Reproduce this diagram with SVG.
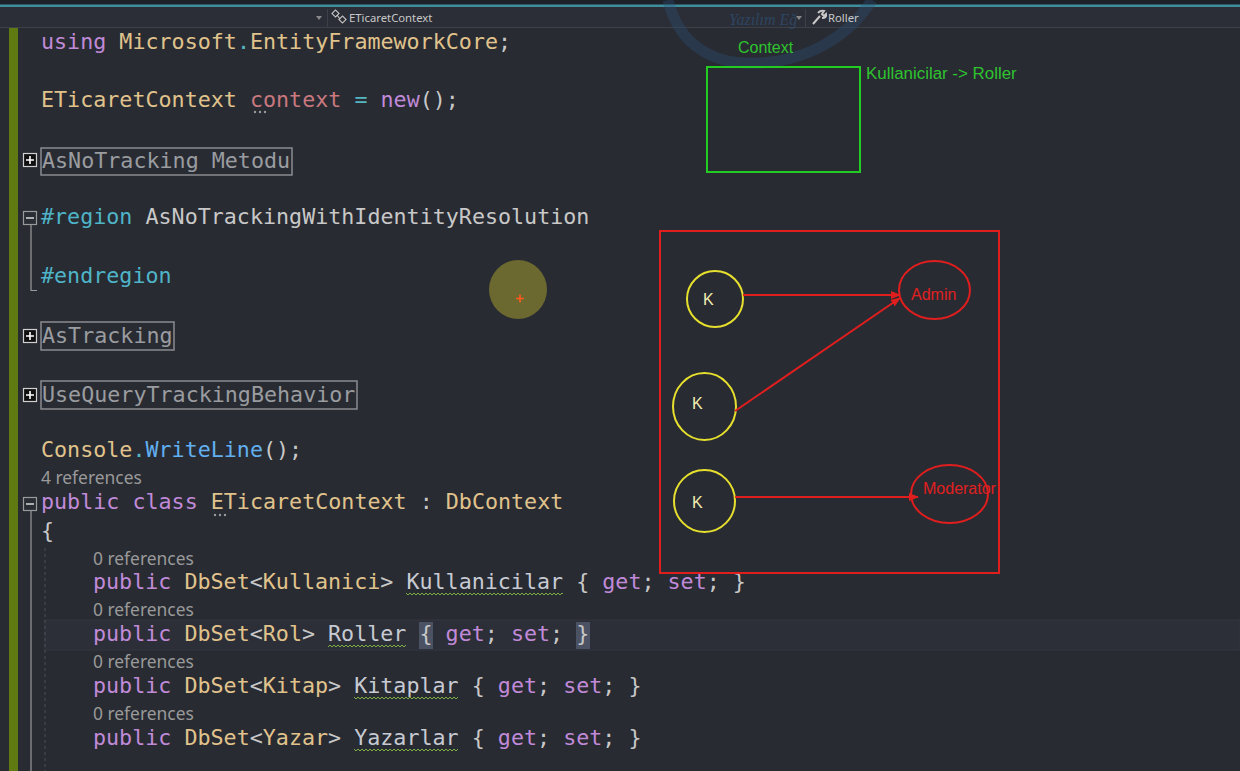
<svg xmlns="http://www.w3.org/2000/svg" width="1240" height="771" viewBox="0 0 1240 771">
<defs>
<style>
.code{font-family:"DejaVu Sans Mono","Liberation Mono",monospace;font-size:21.7px}
.kw{fill:#c08ad8}.ty{fill:#e0c38c}.pl{fill:#c8c8c8}.pr{fill:#c7cad2}.lv{fill:#c9787f}.op{fill:#56b6c2}.mt{fill:#61afef}.pp{fill:#4fb4c8}.col{fill:#9a9ca0}
.lens{font-family:"Noto Sans","Open Sans",sans-serif;font-size:17.4px;fill:#9a9a9a}
.tb{font-family:"Noto Sans","Open Sans",sans-serif;font-size:11.3px;fill:#c8c8c8}
.cbox{fill:none;stroke:#8a8c90;stroke-width:1.5}
.plusbox{fill:#111;stroke:#d0d0d0;stroke-width:1.2}
.minusbox{fill:#2a2d34;stroke:#9a9a9a;stroke-width:1.2}
.dia{font-family:"Liberation Sans",Arial,sans-serif;font-size:16px}
.yc{fill:none;stroke:#e6df2e;stroke-width:2}
.rc{fill:none;stroke:#e01e1e;stroke-width:2}
.kt{fill:#f2eeb0}
.rt{fill:#e02020}
.gt{fill:#2fc32f}
.conn{stroke:#e01e1e;stroke-width:2;fill:none}
</style>
<pattern id="sq" width="4" height="4" patternUnits="userSpaceOnUse">
<path d="M0 3 L2 1 L4 3" fill="none" stroke="#7fae45" stroke-width="1"/>
</pattern>
<marker id="ah" markerWidth="10" markerHeight="8" refX="9" refY="4" orient="auto" markerUnits="userSpaceOnUse">
<path d="M0 0 L10 4 L0 8 Z" fill="#e01e1e"/>
</marker>
</defs>

<!-- background -->
<rect x="0" y="0" width="1240" height="771" fill="#282b32"/>
<rect x="0" y="0" width="1240" height="6" fill="#1e2228"/>
<rect x="0" y="4.5" width="1240" height="2.5" fill="#3f8e9e"/>
<rect x="0" y="7" width="1240" height="20" fill="#2b2e36"/>
<line x1="0" y1="27.5" x2="1240" y2="27.5" stroke="#3c4048" stroke-width="1"/>

<!-- watermark -->
<path d="M 668 0 C 680 50 720 66 760 63 C 810 60 850 35 872 0" fill="none" stroke="#2a4f78" stroke-width="11" opacity="0.35"/>
<text x="729" y="25" font-family="Liberation Serif,serif" font-style="italic" font-size="16" fill="#2f5580" opacity="0.6">Yazılım Eğ</text>

<!-- toolbar -->
<path d="M316 16 L322 16 L319 20 Z" fill="#8a8a8a"/>
<line x1="327.5" y1="9" x2="327.5" y2="27" stroke="#3c4048"/>
<g fill="none" stroke="#c8c8c8" stroke-width="1.1">
<rect x="333" y="11" width="5" height="5" transform="rotate(45 335.5 13.5)"/>
<rect x="340" y="17" width="5" height="5" transform="rotate(45 342.5 19.5)"/>
<path d="M337 15 L340 19"/>
</g>
<text class="tb" x="349" y="22">ETicaretContext</text>
<path d="M796 16 L802 16 L799 20 Z" fill="#8a8a8a"/>
<line x1="805.5" y1="9" x2="805.5" y2="27" stroke="#3c4048"/>
<path d="M813 24 L820 16 M818 13 Q820 10 824 11 L822 14 L824 16 L826 14 Q827 18 822 18" fill="none" stroke="#c8c8c8" stroke-width="2"/>
<text class="tb" x="828" y="22">Roller</text>

<!-- gutter -->
<rect x="9" y="28" width="9" height="743" fill="#5f7a10"/>

<!-- current line highlight -->
<rect x="45" y="620" width="1195" height="30" fill="#2c2f37" stroke="#33363e" stroke-width="1"/>
<rect x="419" y="622" width="14" height="27" fill="#4b5263"/>
<rect x="576" y="622" width="14" height="27" fill="#4b5263"/>

<!-- code -->
<g class="code" xml:space="preserve">
<text x="41" y="49"><tspan class="kw">using</tspan><tspan class="pl"> </tspan><tspan class="ty">Microsoft</tspan><tspan class="op">.</tspan><tspan class="ty">EntityFrameworkCore</tspan><tspan class="pl">;</tspan></text>
<text x="41" y="107"><tspan class="ty">ETicaretContext</tspan><tspan class="pl"> </tspan><tspan class="lv">context</tspan><tspan class="pl"> </tspan><tspan class="op">=</tspan><tspan class="pl"> </tspan><tspan class="kw">new</tspan><tspan class="pl">();</tspan></text>
<text x="42" y="168" class="col">AsNoTracking Metodu</text>
<text x="41" y="224"><tspan class="pp">#region</tspan><tspan class="pl"> AsNoTrackingWithIdentityResolution</tspan></text>
<text x="41" y="283" class="pp">#endregion</text>
<text x="42" y="343" class="col">AsTracking</text>
<text x="42" y="402" class="col">UseQueryTrackingBehavior</text>
<text x="41" y="457"><tspan class="ty">Console</tspan><tspan class="op">.</tspan><tspan class="mt">WriteLine</tspan><tspan class="pl">();</tspan></text>
<text x="41" y="509"><tspan class="kw">public class</tspan><tspan class="pl"> </tspan><tspan class="ty">ETicaretContext</tspan><tspan class="pl"> : </tspan><tspan class="ty">DbContext</tspan></text>
<text x="41" y="538" class="pl">{</text>
<text x="93" y="589"><tspan class="kw">public</tspan><tspan class="pl"> </tspan><tspan class="ty">DbSet</tspan><tspan class="pl">&lt;</tspan><tspan class="ty">Kullanici</tspan><tspan class="pl">&gt; </tspan><tspan class="pr">Kullanicilar</tspan><tspan class="pl"> { </tspan><tspan class="kw">get</tspan><tspan class="pl">; </tspan><tspan class="kw">set</tspan><tspan class="pl">; }</tspan></text>
<text x="93" y="641"><tspan class="kw">public</tspan><tspan class="pl"> </tspan><tspan class="ty">DbSet</tspan><tspan class="pl">&lt;</tspan><tspan class="ty">Rol</tspan><tspan class="pl">&gt; </tspan><tspan class="pr">Roller</tspan><tspan class="pl"> { </tspan><tspan class="kw">get</tspan><tspan class="pl">; </tspan><tspan class="kw">set</tspan><tspan class="pl">; }</tspan></text>
<text x="93" y="693"><tspan class="kw">public</tspan><tspan class="pl"> </tspan><tspan class="ty">DbSet</tspan><tspan class="pl">&lt;</tspan><tspan class="ty">Kitap</tspan><tspan class="pl">&gt; </tspan><tspan class="pr">Kitaplar</tspan><tspan class="pl"> { </tspan><tspan class="kw">get</tspan><tspan class="pl">; </tspan><tspan class="kw">set</tspan><tspan class="pl">; }</tspan></text>
<text x="93" y="745"><tspan class="kw">public</tspan><tspan class="pl"> </tspan><tspan class="ty">DbSet</tspan><tspan class="pl">&lt;</tspan><tspan class="ty">Yazar</tspan><tspan class="pl">&gt; </tspan><tspan class="pr">Yazarlar</tspan><tspan class="pl"> { </tspan><tspan class="kw">get</tspan><tspan class="pl">; </tspan><tspan class="kw">set</tspan><tspan class="pl">; }</tspan></text>
</g>

<!-- codelens -->
<text class="lens" x="41" y="484">4 references</text>
<text class="lens" x="93" y="565">0 references</text>
<text class="lens" x="93" y="616">0 references</text>
<text class="lens" x="93" y="668">0 references</text>
<text class="lens" x="93" y="720">0 references</text>

<!-- collapsed boxes -->
<rect class="cbox" x="41" y="148" width="251" height="27"/>
<rect class="cbox" x="41" y="322" width="133" height="28"/>
<rect class="cbox" x="41" y="381" width="316" height="28"/>

<!-- outline icons -->
<g>
<rect class="plusbox" x="23.5" y="153.5" width="13" height="13"/>
<path d="M26 160 L34 160 M30 156 L30 164" stroke="#fff" stroke-width="1.6"/>
<rect class="plusbox" x="23.5" y="329.5" width="13" height="13"/>
<path d="M26 336 L34 336 M30 332 L30 340" stroke="#fff" stroke-width="1.6"/>
<rect class="plusbox" x="23.5" y="388.5" width="13" height="13"/>
<path d="M26 395 L34 395 M30 391 L30 399" stroke="#fff" stroke-width="1.6"/>
<rect class="minusbox" x="23.5" y="211.5" width="13" height="13"/>
<path d="M26 218 L34 218" stroke="#d0d0d0" stroke-width="1.6"/>
<path d="M31 225 L31 290.5 L37 290.5" fill="none" stroke="#9a9a9a" stroke-width="1.2"/>
<rect class="minusbox" x="23.5" y="497.5" width="13" height="13"/>
<path d="M26 504 L34 504" stroke="#d0d0d0" stroke-width="1.6"/>
<path d="M31 511 L31 771" fill="none" stroke="#9a9a9a" stroke-width="1.2"/>
<path d="M45 548 L45 771" fill="none" stroke="#4a4e56" stroke-width="1" stroke-dasharray="3 3"/>
</g>

<!-- dots and squiggles -->
<g fill="#9a9a9a">
<circle cx="255" cy="112" r="1.2"/><circle cx="260" cy="112" r="1.2"/><circle cx="265" cy="112" r="1.2"/>
<circle cx="215" cy="515" r="1.2"/><circle cx="220" cy="515" r="1.2"/><circle cx="225" cy="515" r="1.2"/>
</g>
<rect x="406" y="593" width="157" height="4" fill="url(#sq)"/>
<rect x="328" y="645" width="78" height="4" fill="url(#sq)"/>
<rect x="354" y="696" width="104" height="4" fill="url(#sq)"/>
<rect x="354" y="749" width="104" height="4" fill="url(#sq)"/>

<!-- cursor highlight -->
<ellipse cx="518" cy="289.5" rx="29" ry="29.5" fill="#6b6830"/>
<path d="M516 298.5 L524 298.5 M520 294.5 L520 302.5" stroke="#ff5a1e" stroke-width="1.6"/>

<!-- diagram -->
<g id="context-box">
<rect x="707" y="67" width="153" height="105" fill="none" stroke="#22cc22" stroke-width="2"/>
<text class="dia gt" x="738" y="53" font-size="16.5">Context</text>
<text class="dia gt" x="866" y="79" style="font-size:16.9px">Kullanicilar -&gt; Roller</text>
</g>

<g id="frame">
<rect x="660" y="231" width="339" height="342" fill="none" stroke="#e01e1e" stroke-width="2"/>
</g>

<g id="k1">
<ellipse class="yc" cx="715" cy="299" rx="28" ry="28"/>
<text class="dia kt" x="703" y="305">K</text>
</g>
<g id="k2">
<ellipse class="yc" cx="704.5" cy="406.5" rx="31.5" ry="33.5"/>
<text class="dia kt" x="692" y="409">K</text>
</g>
<g id="k3">
<ellipse class="yc" cx="704.5" cy="501" rx="30.5" ry="31"/>
<text class="dia kt" x="692" y="508">K</text>
</g>
<g id="admin">
<ellipse class="rc" cx="934.5" cy="290" rx="35.5" ry="29"/>
<text class="dia rt" x="911" y="300">Admin</text>
</g>
<g id="moderator">
<ellipse class="rc" cx="949.5" cy="494" rx="38.5" ry="29"/>
<text class="dia rt" x="923" y="494">Moderator</text>
</g>

<g id="connectors">
<line class="conn" x1="743" y1="295" x2="900" y2="295" marker-end="url(#ah)"/>
<line class="conn" x1="735" y1="411" x2="900" y2="298" marker-end="url(#ah)"/>
<line class="conn" x1="735" y1="497" x2="918" y2="497" marker-end="url(#ah)"/>
</g>
</svg>
